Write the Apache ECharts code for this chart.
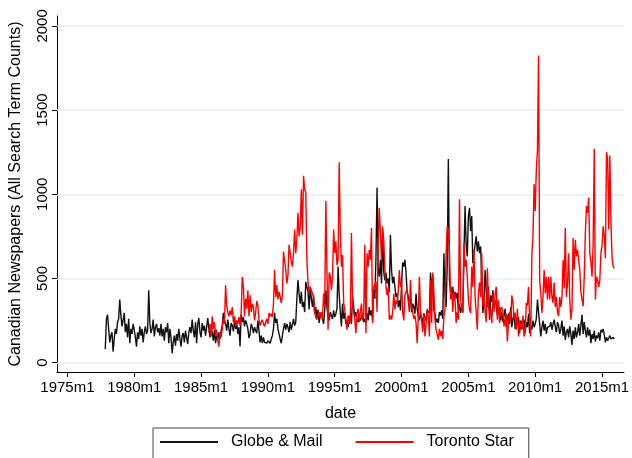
<!DOCTYPE html>
<html><head><meta charset="utf-8">
<script src="https://cdn.jsdelivr.net/npm/echarts@6/dist/echarts.min.js"></script>
<style>html,body{margin:0;padding:0;background:#fff}#c{width:632px;height:458px}</style>
</head><body><div id="c"></div>
<script>
// ---- data (monthly counts) ----
const globeStart = [1977, 11];
const globeMail = [
  80, 260,
  285, 200, 120, 160, 180, 65, 140, 200, 170, 240, 260, 375,
  280, 215, 250, 295, 180, 230, 150, 260, 115, 200, 170, 230,
  195, 150, 95, 180, 140, 215, 160, 200, 120, 180, 215, 170,
  190, 430, 235, 175, 200, 255, 155, 210, 230, 180, 205, 160,
  230, 155, 200, 130, 210, 180, 235, 115, 200, 150, 55, 120,
  160, 100, 170, 130, 200, 145, 95, 160, 175, 120, 190, 150,
  110, 180, 210, 175, 255, 190, 150, 240, 115, 230, 265, 180,
  150, 235, 190, 220, 160, 210, 265, 200, 150, 220, 180, 130,
  195, 115, 160, 135, 180, 140, 190, 220, 295, 250, 230, 190,
  255, 200, 160, 235, 220, 185, 250, 200, 230, 170, 210, 95,
  285, 240, 270, 215, 250, 230, 200, 145, 170, 230, 210, 175,
  210, 190, 175, 250, 190, 120, 160, 115, 150, 120, 130, 115,
  130, 120, 115, 140, 160, 200, 295, 235, 260, 200, 170, 140,
  115, 160, 200, 235, 195, 230, 210, 180, 240, 195, 225, 260,
  220, 240, 380, 490, 410, 350, 420, 330, 360, 300, 480, 490,
  420, 315, 450, 380, 330, 400, 290, 330, 260, 315, 235, 280,
  300, 260, 230, 310, 430, 330, 270, 250, 300, 280, 260, 310,
  270, 290, 320, 570, 400, 300, 215, 350, 260, 295, 230, 250,
  210, 260, 280, 230, 390, 330, 275, 300, 255, 240, 270, 250,
  255, 290, 240, 260, 235, 295, 250, 330, 280, 310, 250, 430,
  380, 620, 1040, 560, 510, 610, 470, 780, 540, 490, 535, 470,
  500, 420, 760, 550, 470, 510, 450, 390, 410, 330, 370, 310,
  460, 595, 570, 610, 535, 420, 390, 350, 380, 300, 350, 330,
  290, 410, 320, 275, 250, 300, 260, 240, 290, 270, 250, 310,
  300, 295, 535, 415, 520, 310, 290, 240, 260, 235, 300, 280,
  310, 260, 650, 400, 330, 580, 1210, 490, 420, 380, 450, 375,
  420, 380, 415, 300, 350, 295, 330, 300, 640, 930, 700, 630,
  870, 920, 780, 870, 590, 650, 700, 750, 660, 720, 650, 690,
  490, 295, 380, 550, 420, 330, 450, 255, 400, 360, 430, 335,
  370, 340, 280, 310, 330, 250, 300, 240, 280, 320, 210, 260,
  290, 230, 330, 210, 260, 295, 200, 240, 220, 270, 175, 250,
  230, 200, 255, 180, 240, 210, 290, 175, 220, 195, 250, 210,
  230, 260, 375, 300, 230, 155, 210, 250, 190, 230, 170, 210,
  200, 215, 240, 195, 230, 255, 210, 180, 240, 220, 170, 200,
  250, 160, 215, 135, 180, 200, 150, 215, 170, 105, 190, 140,
  210, 150, 180, 230, 160, 220, 285, 170, 240, 190, 150, 210,
  160, 195, 115, 170, 140, 190, 125, 160, 145, 180, 130, 195,
  180, 200, 165, 120, 150, 130, 145, 160, 140, 135, 150, 140
];
const starStart = [1985, 8];
const torontoStar = [
  180, 230, 155, 275, 200,
  240, 160, 195, 130, 95, 180, 150, 200, 260, 230, 460, 335,
  300, 275, 310, 280, 330, 240, 275, 215, 250, 230, 270, 220,
  300, 510, 450, 275, 380, 320, 430, 275, 400, 300, 350, 330,
  250, 300, 365, 335, 255, 220, 240, 255, 230, 215, 240, 260,
  230, 295, 275, 290, 270, 350, 550, 390, 460, 375, 420, 390,
  355, 400, 660, 650, 550, 470, 520, 700, 690, 600, 570, 650,
  790, 650, 730, 890, 750, 800, 1030, 760, 1110, 1030, 1010, 610,
  475, 415, 450, 440, 410, 390, 295, 270, 255, 280, 300, 265,
  300, 255, 410, 330, 960, 550, 195, 535, 515, 430, 510, 790,
  650, 720, 580, 610, 1190, 770, 570, 640, 355, 315, 255, 195,
  280, 230, 250, 770, 355, 300, 255, 175, 290, 320, 240, 300,
  350, 250, 280, 700, 175, 650, 570, 670, 610, 800, 235, 450,
  450, 480, 300, 710, 920, 770, 610, 810, 730, 560, 450, 400,
  450, 255, 280, 255, 300, 410, 315, 370, 350, 420, 550, 450,
  480, 300, 250, 400, 390, 440, 360, 300, 490, 330, 295, 260,
  280, 235, 115, 270, 510, 300, 250, 180, 295, 155, 230, 320,
  275, 155, 490, 235, 535, 415, 255, 195, 170, 135, 200, 155,
  190, 140, 275, 315, 650, 810, 790, 670, 375, 450, 300, 420,
  375, 235, 300, 255, 970, 375, 330, 295, 710, 570, 610, 510,
  375, 315, 295, 570, 450, 670, 390, 300, 195, 410, 475, 390,
  650, 335, 400, 300, 240, 560, 375, 275, 320, 235, 410, 300,
  410, 450, 255, 370, 235, 315, 330, 300, 215, 260, 290, 125,
  240, 300, 250, 400, 355, 260, 295, 195, 320, 155, 250, 210,
  195, 280, 155, 175, 355, 340, 450, 255, 155, 650, 750, 1060,
  900, 1150, 1260, 1825, 490, 410, 295, 390, 550, 410, 510, 375,
  510, 375, 510, 390, 355, 475, 330, 390, 300, 275, 390, 330,
  390, 610, 440, 800, 390, 470, 650, 375, 255, 320, 740, 550,
  730, 630, 670, 610, 550, 420, 375, 335, 510, 770, 930, 890,
  980, 650, 600, 510, 700, 1270, 375, 510, 490, 450, 490, 650,
  700, 810, 750, 620, 1250, 1210, 790, 1230, 830, 620, 570, 560
];
const seriesNames = ['Globe & Mail', 'Toronto Star'];
const yTicks = [0, 500, 1000, 1500, 2000];
const yTickLabels = ['0', '500', '1000', '1500', '2000'];
const xTickValues = [1975, 1980, 1985, 1990, 1995, 2000, 2005, 2010, 2015];
const xTickLabels = ['1975m1', '1980m1', '1985m1', '1990m1', '1995m1', '2000m1', '2005m1', '2010m1', '2015m1'];

// month index -> decimal date
function toPairs(start, vals) {
  return vals.map((v, i) => {
    const m = start[1] - 1 + i;
    return [start[0] + Math.floor(m / 12) + (m % 12) / 12, v];
  });
}

const FONT = '"Liberation Sans", Arial, Helvetica, sans-serif';
const chart = echarts.init(document.getElementById('c'), null, { renderer: 'canvas' });
chart.setOption({
  animation: false,
  backgroundColor: '#ffffff',
  textStyle: { fontFamily: FONT },
  grid: { left: 53, right: 8, top: 16, bottom: 86, containLabel: false },
  xAxis: {
    type: 'value', min: 1974.22, max: 2016.64,
    name: 'date', nameLocation: 'middle', nameGap: 34,
    nameTextStyle: { fontSize: 16, color: '#000', fontFamily: FONT },
    axisLine: { show: true, onZero: false, lineStyle: { color: '#000', width: 1 } },
    axisTick: { show: true, length: 5, customValues: xTickValues, lineStyle: { color: '#000' } },
    axisLabel: {
      customValues: xTickValues, fontSize: 15, color: '#000', margin: 8, fontFamily: FONT,
      formatter: v => xTickLabels[xTickValues.indexOf(Math.round(v))] || ''
    },
    splitLine: { show: false }
  },
  yAxis: {
    type: 'value', min: -56, max: 2059,
    name: 'Canadian Newspapers (All Search Term Counts)', nameLocation: 'middle', nameGap: 33,
    nameRotate: 90,
    nameTextStyle: { fontSize: 16, color: '#000', fontFamily: FONT },
    axisLine: { show: true, onZero: false, lineStyle: { color: '#000', width: 1 } },
    axisTick: { show: true, length: 5, customValues: yTicks, lineStyle: { color: '#000' } },
    axisLabel: {
      customValues: yTicks, rotate: 90, fontSize: 15, color: '#000', margin: 7, fontFamily: FONT,
      formatter: v => yTickLabels[yTicks.indexOf(Math.round(v))] || ''
    },
    splitLine: { show: false }
  },
  legend: {
    left: 153, top: 428, orient: 'horizontal',
    icon: 'rect', itemWidth: 58, itemHeight: 2, itemGap: 33,
    padding: [6, 15, 30, 7],
    borderColor: '#444', borderWidth: 1,
    textStyle: { fontSize: 16, color: '#000', padding: [0, 0, 0, 8], fontFamily: FONT },
    data: seriesNames
  },
  series: [
    {
      name: seriesNames[0], type: 'line', data: toPairs(globeStart, globeMail),
      showSymbol: false, symbol: 'none',
      lineStyle: { color: '#111', width: 1.4 }, itemStyle: { color: '#111' },
      z: 3,
      markLine: {
        silent: true, symbol: 'none', label: { show: false }, animation: false,
        lineStyle: { color: '#e3eef0', width: 1.5, type: 'solid' },
        data: yTicks.map(t => ({ yAxis: t })),
        z: 1
      }
    },
    {
      name: seriesNames[1], type: 'line', data: toPairs(starStart, torontoStar),
      showSymbol: false, symbol: 'none',
      lineStyle: { color: '#ff0000', width: 1.4 }, itemStyle: { color: '#ff0000' },
      z: 4
    }
  ]
});
</script>
</body></html>
